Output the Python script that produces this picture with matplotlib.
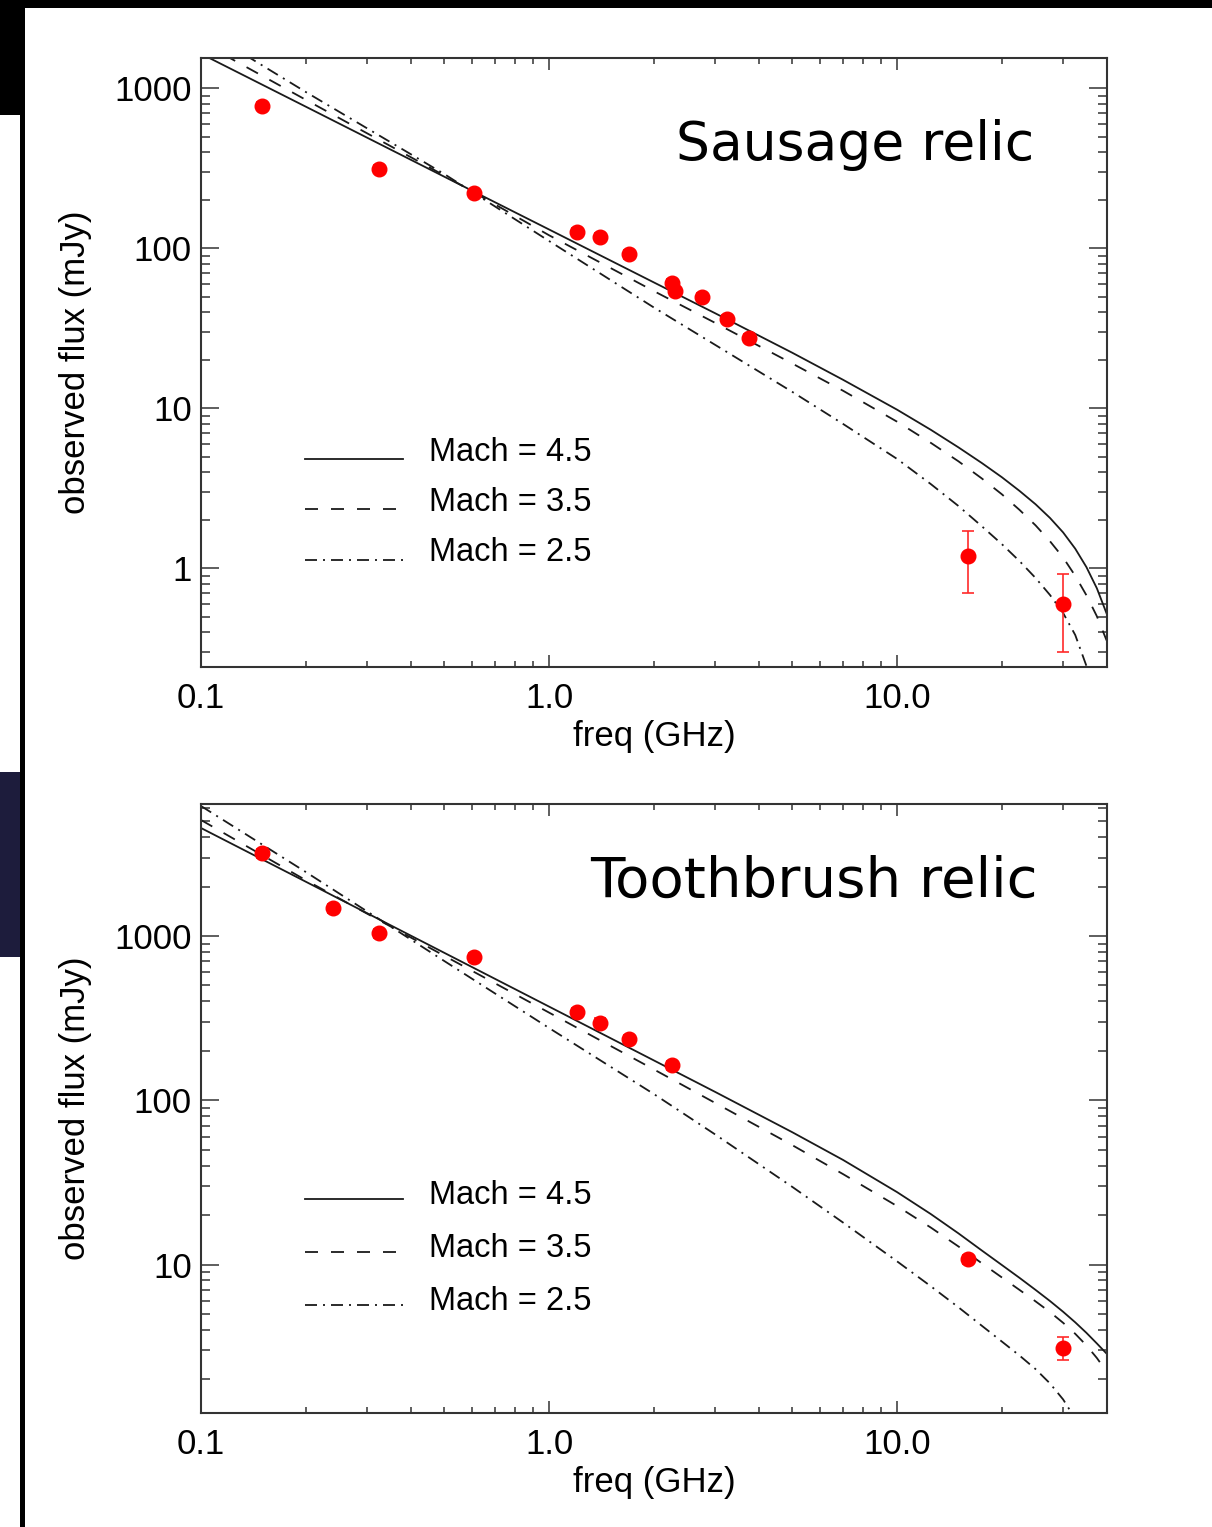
import numpy as np
import matplotlib
matplotlib.use('Agg')
import matplotlib.pyplot as plt
from matplotlib.patches import Rectangle
from matplotlib.ticker import FixedLocator, FixedFormatter, LogLocator, NullFormatter

nan = np.nan
# ---------------- data ----------------
freq_model = [0.1, 0.2, 0.5, 1.0, 2.0, 3.0, 5.0, 7.0, 10.0, 12.5, 15.0, 17.5,
              20.0, 22.5, 25.0, 27.5, 30.0, 32.5, 35.0, 37.5, 40.0]

# Sausage relic model curves (mJy)
sausage_m45 = [1648, 770, 281, 131.5, 61.4, 39.4, 22.3, 15.1, 9.83, 7.36, 5.72, 4.57,
               3.72, 3.05, 2.52, 2.07, 1.68, 1.33, 1.02, 0.752, 0.523]
sausage_m35 = [1950, 850, 286, 121, 54.2, 34.3, 19.1, 12.9, 8.27, 6.10, 4.68, 3.66,
               2.91, 2.32, 1.86, 1.48, 1.17, 0.90, 0.68, 0.503, 0.355]
sausage_m25 = [2388, 951, 292, 111.4, 42.8, 25.0, 12.7, 8.0, 4.84, 3.37, 2.46, 1.84,
               1.42, 1.11, 0.872, 0.683, 0.527, 0.384, 0.246, 0.151, nan]

# Sausage relic observations
sausage_freq = [0.15, 0.325, 0.61, 1.2, 1.4, 1.7, 2.25, 2.3, 2.75, 3.25, 3.75, 16.0, 30.0]
sausage_flux = [780, 314, 222, 127, 118.7, 92, 61, 54.5, 50, 36.2, 27.7, 1.2, 0.6]
sausage_err_lo = [47, 19, 13, 7.6, 7.1, 5.5, 3.7, 3.3, 3.0, 2.2, 1.7, 0.50, 0.30]
sausage_err_hi = [47, 19, 13, 7.6, 7.1, 5.5, 3.7, 3.3, 3.0, 2.2, 1.7, 0.52, 0.32]

# Toothbrush relic model curves (mJy)
tooth_m45 = [4542, 2140, 790, 371.8, 174.9, 112.5, 63.9, 43.3, 27.6, 20.3, 15.5, 12.2,
             9.94, 8.29, 7.01, 6.0, 5.16, 4.45, 3.84, 3.31, 2.87]
tooth_m35 = [5082, 2186, 757.8, 341.8, 154.2, 96.4, 53.3, 35.5, 22.7, 16.8, 12.9, 10.2,
             8.35, 7.0, 5.97, 5.14, 4.42, 3.79, 3.22, 2.70, 2.23]
tooth_m25 = [6182, 2452, 704.3, 275.4, 109.2, 62.0, 29.7, 18.0, 10.46, 7.38, 5.50, 4.25,
             3.40, 2.79, 2.31, 1.89, 1.51, 1.153, nan, nan, nan]

# Toothbrush relic observations
tooth_freq = [0.15, 0.24, 0.325, 0.61, 1.2, 1.4, 1.7, 2.25, 16.0, 30.0]
tooth_flux = [3185, 1475, 1038, 742, 346, 297, 236, 163, 10.8, 3.1]
tooth_err_lo = [190, 88, 62, 45, 21, 18, 14, 10, 0.65, 0.48]
tooth_err_hi = [190, 88, 62, 45, 21, 18, 14, 10, 0.65, 0.52]

legend_labels = ['Mach = 4.5', 'Mach = 3.5', 'Mach = 2.5']
xtick_vals = [0.1, 1.0, 10.0]
xtick_labels = ['0.1', '1.0', '10.0']
sausage_ytick_vals = [1, 10, 100, 1000]
sausage_ytick_labels = ['1', '10', '100', '1000']
tooth_ytick_vals = [10, 100, 1000]
tooth_ytick_labels = ['10', '100', '1000']

# ---------------- figure ----------------
plt.rcParams['font.family'] = ['Liberation Sans', 'DejaVu Sans']
plt.rcParams['lines.scale_dashes'] = False

W, H = 1212, 1527
fig = plt.figure(figsize=(W / 100, H / 100), dpi=100)
fig.patch.set_facecolor('white')


def P(v):  # pixels -> points
    return v * 72.0 / 100.0


def frect(x0, y0, x1, y1, color):
    fig.patches.append(Rectangle((x0 / W, 1 - y1 / H), (x1 - x0) / W, (y1 - y0) / H,
                                 transform=fig.transFigure, facecolor=color,
                                 edgecolor='none', zorder=0))


# screenshot surroundings
frect(0, 0, W, 7.5, 'black')
frect(0, 0, 25, 115, 'black')
frect(20, 115, 25, H, 'black')
frect(0, 772, 20, 957, '#1d1c3c')

FS_LEG = 23.5
FS_TICK = 25
FS_LAB = 25
LINE_C = '#1a1a1a'
styles = [dict(linestyle='-'),
          dict(dashes=(P(13), P(13))),
          dict(dashes=(P(12), P(6), P(2), P(6)))]


def panel(rect_px, ylim, ytv, ytl, models, freq, flux, elo, ehi,
          title, title_xy, title_fs, leg_lines, leg_text):
    l, t, r, b = rect_px
    ax = fig.add_axes([l / W, 1 - b / H, (r - l) / W, (b - t) / H])
    ax.set_xscale('log')
    ax.set_yscale('log')
    ax.set_xlim(0.1, 40.1)
    ax.set_ylim(*ylim)

    for m, st in zip(models, styles):
        ax.plot(freq_model, m, color=LINE_C, lw=1.3, **st)

    ax.errorbar(freq, flux, yerr=[elo, ehi], fmt='o', color='#ff0000', ms=10.5,
                mec='#ff0000', ecolor='#ff2a2a', elinewidth=1.2, capsize=P(6),
                capthick=1.2, zorder=5)

    # legend (keys in axes fraction)
    for ly, ty, st, lab in zip(leg_lines, leg_text, styles, legend_labels):
        ax.plot([0.1148, 0.2230], [ly, ly], transform=ax.transAxes,
                color=LINE_C, lw=1.3, **st)
        ax.text(0.2517, ty, lab, transform=ax.transAxes, fontsize=FS_LEG,
                ha='left', va='baseline', color='black')

    ax.text(title_xy[0], title_xy[1], title, transform=ax.transAxes,
            fontsize=title_fs, family='DejaVu Sans', ha='left', va='baseline')

    # ticks
    ax.xaxis.set_major_locator(FixedLocator(xtick_vals))
    ax.xaxis.set_major_formatter(FixedFormatter(xtick_labels))
    ax.xaxis.set_minor_locator(LogLocator(base=10, subs=np.arange(2, 10)))
    ax.xaxis.set_minor_formatter(NullFormatter())
    ax.yaxis.set_major_locator(FixedLocator(ytv))
    ax.yaxis.set_major_formatter(FixedFormatter(ytl))
    ax.yaxis.set_minor_locator(LogLocator(base=10, subs=np.arange(2, 10)))
    ax.yaxis.set_minor_formatter(NullFormatter())

    tc = '#333333'
    ax.tick_params(axis='both', which='both', direction='in', top=True, right=True,
                   color=tc, width=1.1, labelsize=FS_TICK)
    ax.tick_params(axis='x', which='major', length=P(12), pad=P(15))
    ax.tick_params(axis='x', which='minor', length=P(6))
    ax.tick_params(axis='y', which='major', length=P(18), pad=P(9))
    ax.tick_params(axis='y', which='minor', length=P(9))
    for s in ax.spines.values():
        s.set_color(tc)
        s.set_linewidth(1.5)

    ax.set_xlabel('freq (GHz)', fontsize=FS_LAB, labelpad=P(5))
    ax.set_ylabel('observed flux (mJy)', fontsize=FS_LAB, labelpad=P(22))
    return ax


panel((201, 58, 1107, 667), (0.2423, 1551), sausage_ytick_vals, sausage_ytick_labels,
      [sausage_m45, sausage_m35, sausage_m25],
      sausage_freq, sausage_flux, sausage_err_lo, sausage_err_hi,
      'Sausage relic', (0.5243, 0.8325), 38.5,
      [0.3415, 0.2589, 0.1757], [0.3378, 0.2557, 0.1736])

panel((201, 804, 1107, 1413), (1.249, 6359), tooth_ytick_vals, tooth_ytick_labels,
      [tooth_m45, tooth_m35, tooth_m25],
      tooth_freq, tooth_flux, tooth_err_lo, tooth_err_hi,
      'Toothbrush relic', (0.4294, 0.8473), 40.5,
      [0.3514, 0.2644, 0.1773], [0.3437, 0.2567, 0.1697])

fig.savefig('out.png', dpi=100, facecolor='white')
